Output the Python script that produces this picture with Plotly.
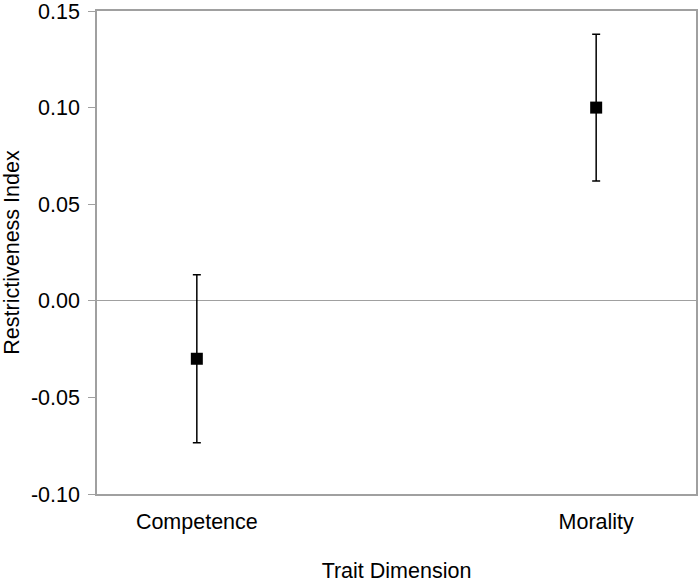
import plotly.graph_objects as go

categories = ["Competence", "Morality"]
means = [-0.030, 0.100]
err_hi = [0.0435, 0.038]
err_lo = [0.0435, 0.038]
y_ticks = [-0.10, -0.05, 0.00, 0.05, 0.10, 0.15]
y_tick_text = ["-0.10", "-0.05", "0.00", "0.05", "0.10", "0.15"]

fig = go.Figure()
fig.add_trace(go.Scatter(
    x=categories, y=means, mode="markers",
    marker=dict(symbol="square", size=12, color="black"),
    error_y=dict(type="data", symmetric=False, array=err_hi, arrayminus=err_lo,
                 color="black", thickness=1.5, width=4),
    showlegend=False,
))

fig.update_layout(
    width=700, height=586,
    margin=dict(l=97, r=4, t=11, b=92),
    paper_bgcolor="white", plot_bgcolor="white",
    font=dict(family="Liberation Sans, Arial, sans-serif", size=21.5, color="black"),
    xaxis=dict(
        type="category", range=[-0.25, 1.25], automargin=False,
        showgrid=False, zeroline=False,
        showline=True, linecolor="#a0a0a0", linewidth=1.5, mirror=True,
        ticks="", tickfont=dict(size=21.5), ticklabelstandoff=7,
        ticklabeloverflow="allow",
        title=dict(text="Trait Dimension", font=dict(size=21.5), standoff=30),
    ),
    yaxis=dict(
        range=[-0.10, 0.15], tickvals=y_ticks, ticktext=y_tick_text, automargin=False,
        showgrid=False, zeroline=True, zerolinecolor="#a0a0a0", zerolinewidth=1,
        showline=True, linecolor="#a0a0a0", linewidth=1.5, mirror=True,
        ticks="outside", ticklen=7, tickcolor="#a0a0a0", tickwidth=1,
        tickfont=dict(size=21.5), ticklabeloverflow="allow", ticklabelstandoff=4,
        title=dict(text="Restrictiveness Index", font=dict(size=21.5), standoff=12),
    ),
)

fig.write_html(
    "out.html",
    config={"displayModeBar": False},
    post_script="document.body.style.margin='0';document.body.style.overflow='hidden';",
)
